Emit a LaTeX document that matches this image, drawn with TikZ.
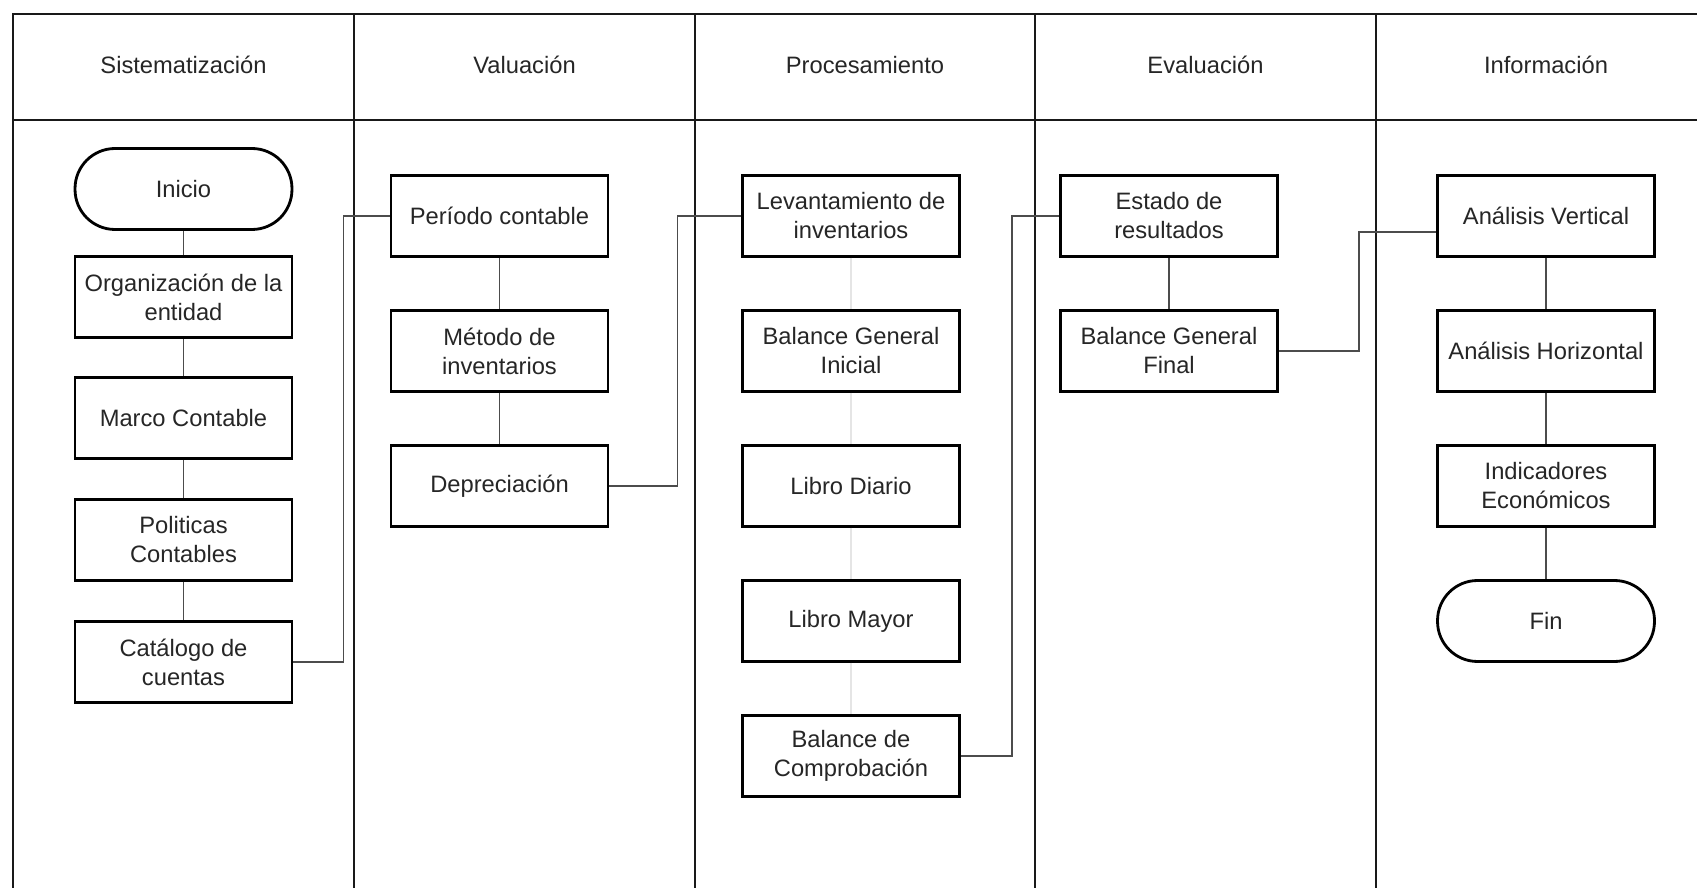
\documentclass[tikz,border=0pt]{standalone}
\usepackage{fontspec}
\setmainfont{Liberation Sans}
\usepackage{tikz}
\tikzstyle{lane}=[line width=1.2pt, black!90]
\tikzstyle{proc}=[rectangle, draw=black, fill=white, line width=1.6pt,
                  minimum width=4.34cm, minimum height=1.62cm,
                  inner sep=2pt, align=center, text=black!85,
                  font=\fontsize{13.5}{16.5}\selectfont]
\tikzstyle{term}=[proc, rounded corners=0.8cm]
\tikzstyle{title}=[text=black!85, font=\fontsize{13.5}{16.5}\selectfont]
\tikzstyle{edge}=[line width=0.8pt, black!70]
\tikzstyle{faint}=[line width=0.8pt, black!10]

\begin{document}
\begin{tikzpicture}[x=0.02cm, y=-0.02cm]
    \useasboundingbox (0,0) rectangle (1697,888);
    \fill[white] (0,0) rectangle (1697,888);

    % lanes
    \draw [lane] (13,888) -- (13,14) -- (1697,14);
    \draw [lane] (13,120) -- (1697,120);
    \foreach \x in {354,695,1035,1376}
      \draw [lane] (\x,14) -- (\x,888);

    \node (h1) at (183.5,65)  [title]{Sistematización};
    \node (h2) at (524.5,65)  [title]{Valuación};
    \node (h3) at (865,65)    [title]{Procesamiento};
    \node (h4) at (1205.5,65) [title]{Evaluación};
    \node (h5) at (1546,65)   [title]{Información};

    % Sistematizacion
    \node (ini) at (183.5,189) [term]{Inicio};
    \node (org) at (183.5,297) [proc]{Organización de la\\entidad};
    \node (mar) at (183.5,418) [proc]{Marco Contable};
    \node (pol) at (183.5,540) [proc]{Politicas\\Contables};
    \node (cat) at (183.5,662) [proc]{Catálogo de\\cuentas};

    % Valuacion
    \node (per) at (499.5,216) [proc]{Período contable};
    \node (met) at (499.5,351) [proc]{Método de\\inventarios};
    \node (dep) at (499.5,486) [proc]{Depreciación};

    % Procesamiento
    \node (lev) at (851,216) [proc]{Levantamiento de\\inventarios};
    \node (bgi) at (851,351) [proc]{Balance General\\Inicial};
    \node (dia) at (851,486) [proc]{Libro Diario};
    \node (may) at (851,621) [proc]{Libro Mayor};
    \node (com) at (851,756) [proc]{Balance de\\Comprobación};

    % Evaluacion
    \node (est) at (1169,216) [proc]{Estado de\\resultados};
    \node (bgf) at (1169,351) [proc]{Balance General\\Final};

    % Informacion
    \node (ver) at (1546,216) [proc]{Análisis Vertical};
    \node (hor) at (1546,351) [proc]{Análisis Horizontal};
    \node (ind) at (1546,486) [proc]{Indicadores\\Económicos};
    \node (fin) at (1546,621) [term]{Fin};

    \foreach \u/\v in {ini/org,org/mar,mar/pol,pol/cat,per/met,met/dep,
                       est/bgf,ver/hor,hor/ind,ind/fin}
      \draw [edge] (\u) to (\v);
    \foreach \u/\v in {lev/bgi,bgi/dia,dia/may,may/com}
      \draw [faint] (\u) to (\v);

    \draw [edge] (cat.east) -- ++(50,0) |- (per.west);
    \draw [edge] (dep.east) -- ++(68,0) |- (lev.west);
    \draw [edge] (com.east) -- ++(51,0) |- (est.west);
    \draw [edge] (bgf.east) -- ++(80,0) |- ([yshift=-9pt]ver.west);
\end{tikzpicture}
\end{document}
